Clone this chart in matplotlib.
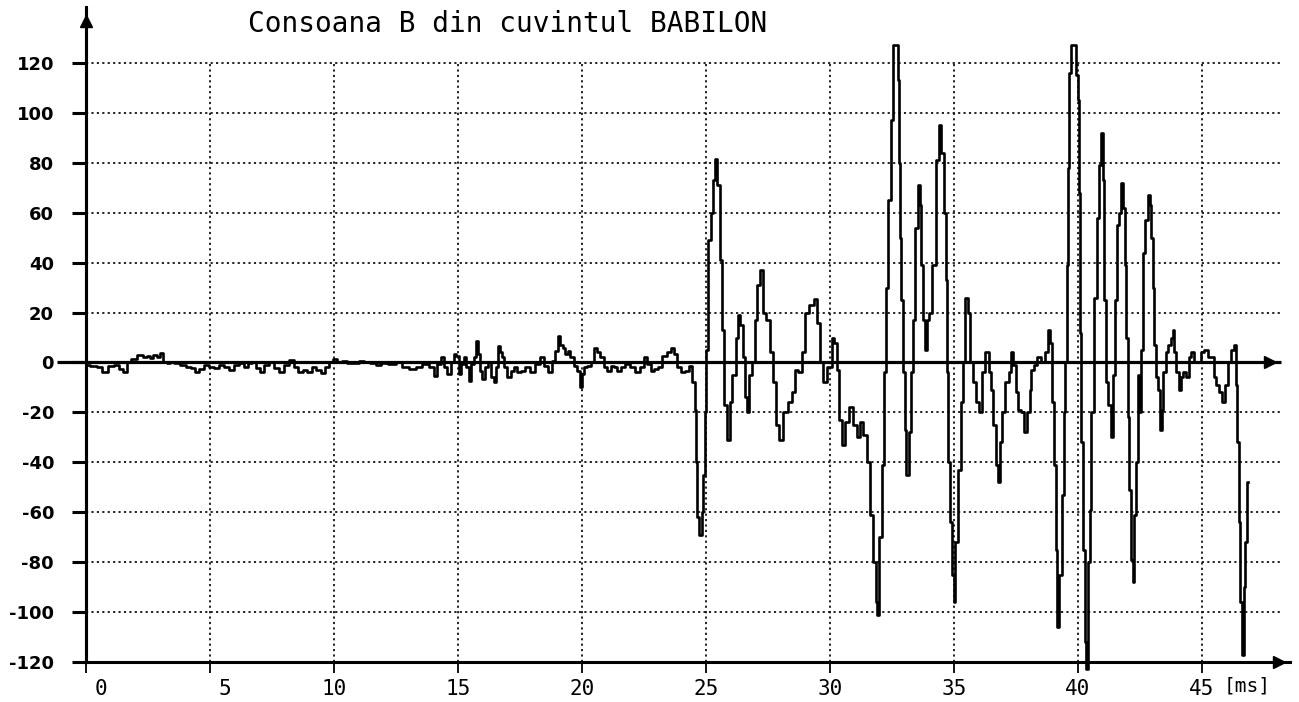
import matplotlib
matplotlib.use("Agg")
import matplotlib.pyplot as plt
from matplotlib.transforms import ScaledTranslation

# ---- data -------------------------------------------------------------
title = "Consoana B din cuvintul BABILON"
x_unit = "[ms]"
x_ticks = [0, 5, 10, 15, 20, 25, 30, 35, 40, 45]
y_ticks = [-120, -100, -80, -60, -40, -20, 0, 20, 40, 60, 80, 100, 120]

# sampled speech waveform (time in ms, amplitude in ADC units)
time_ms = [
    0.03, 0.30, 0.56, 0.77, 1.03, 1.24, 1.44, 1.57, 1.71, 1.91, 2.18, 2.38, 2.51,
    2.65, 2.78, 2.92, 3.05, 3.19, 3.32, 3.45, 3.66, 3.92, 4.13, 4.33, 4.46, 4.66,
    4.87, 5.07, 5.27, 5.47, 5.67, 5.87, 6.08, 6.28, 6.48, 6.61, 6.75, 6.95, 7.09,
    7.29, 7.49, 7.69, 7.89, 8.09, 8.29, 8.49, 8.63, 8.83, 9.03, 9.17, 9.37, 9.57,
    9.70, 9.91, 10.04, 10.24, 10.44, 10.64, 10.91, 11.11, 11.32, 11.59, 11.79, 11.99,
    12.35, 12.62, 12.89, 13.16, 13.43, 13.70, 13.97, 14.10, 14.23, 14.37, 14.50,
    14.64, 14.77, 14.88, 14.97, 15.08, 15.17, 15.28, 15.38, 15.47, 15.58, 15.69,
    15.78, 15.85, 15.91, 16.05, 16.14, 16.25, 16.38, 16.49, 16.59, 16.65, 16.75,
    16.81, 16.92, 17.06, 17.19, 17.33, 17.46, 17.59, 17.80, 18.00, 18.20, 18.40,
    18.53, 18.74, 18.87, 18.98, 19.07, 19.18, 19.27, 19.38, 19.48, 19.58, 19.74,
    19.88, 19.99, 20.04, 20.15, 20.28, 20.42, 20.55, 20.69, 20.79, 20.95, 21.09,
    21.22, 21.36, 21.49, 21.63, 21.83, 22.03, 22.23, 22.43, 22.57, 22.70, 22.83,
    22.97, 23.17, 23.31, 23.51, 23.64, 23.78, 23.91, 24.05, 24.25, 24.38, 24.50,
    24.58, 24.62, 24.69, 24.78, 24.86, 24.92, 24.97, 25.02, 25.16, 25.23, 25.31,
    25.39, 25.50, 25.59, 25.70, 25.77, 25.90, 26.01, 26.10, 26.28, 26.34, 26.44,
    26.51, 26.61, 26.71, 26.77, 26.91, 27.04, 27.11, 27.24, 27.35, 27.51, 27.65,
    27.78, 27.85, 28.05, 28.19, 28.39, 28.52, 28.66, 28.79, 28.92, 29.06, 29.26,
    29.44, 29.53, 29.66, 29.76, 30.00, 30.13, 30.20, 30.34, 30.41, 30.54, 30.68,
    30.88, 31.01, 31.15, 31.28, 31.42, 31.55, 31.69, 31.78, 31.89, 31.93, 32.03,
    32.16, 32.23, 32.30, 32.39, 32.50, 32.57, 32.70, 32.77, 32.80, 32.84, 32.91,
    32.97, 33.04, 33.11, 33.24, 33.31, 33.38, 33.51, 33.58, 33.65, 33.72, 33.78,
    33.88, 33.96, 34.05, 34.19, 34.32, 34.43, 34.53, 34.64, 34.69, 34.73, 34.80,
    34.89, 34.96, 35.00, 35.11, 35.20, 35.34, 35.41, 35.50, 35.61, 35.72, 35.81,
    35.95, 36.04, 36.20, 36.29, 36.37, 36.47, 36.53, 36.64, 36.73, 36.80, 36.91,
    37.00, 37.14, 37.27, 37.34, 37.45, 37.54, 37.63, 37.74, 37.88, 38.01, 38.08,
    38.15, 38.28, 38.41, 38.62, 38.75, 38.84, 38.92, 38.98, 39.06, 39.13, 39.19,
    39.29, 39.38, 39.46, 39.52, 39.56, 39.62, 39.69, 39.76, 39.89, 39.96, 40.03,
    40.07, 40.12, 40.16, 40.23, 40.30, 40.36, 40.43, 40.50, 40.56, 40.70, 40.81,
    40.86, 40.97, 41.03, 41.08, 41.17, 41.28, 41.37, 41.44, 41.51, 41.61, 41.71,
    41.77, 41.84, 41.91, 41.98, 42.02, 42.11, 42.20, 42.24, 42.31, 42.38, 42.45,
    42.50, 42.58, 42.67, 42.77, 42.85, 42.92, 42.98, 43.04, 43.08, 43.17, 43.25,
    43.35, 43.41, 43.48, 43.58, 43.68, 43.79, 43.86, 43.92, 44.02, 44.09, 44.19,
    44.29, 44.42, 44.53, 44.62, 44.76, 44.89, 45.03, 45.16, 45.30, 45.43, 45.52,
    45.63, 45.77, 45.87, 45.97, 46.10, 46.21, 46.34, 46.40, 46.44, 46.51, 46.57,
    46.64, 46.71, 46.77, 46.84,
]
amplitude = [
    -1, -1.5, -2, -4, -1.5, -1, -2.5, -4, 0, 1.5, 3, 2.3, 2.5,
    1.6, 3, 2.3, 3.6, 0.3, -0.4, 0.3, -0.4, -1, -1.7, -2.4, -3.7, -2.8,
    -1, -1.7, -2.4, -1, -1.7, -3, -1, -0.4, -1.7, -0.4, 0.3, -2.4, -3.7,
    -1, 0.3, -2.4, -3.7, -1, 1, -1.7, -3.7, -3, -3.7, -1.7, -3, -4.4,
    -1.7, 0.3, 1.2, 0.3, 0.7, -0.1, -0.4, 0.7, 0.3, -0.4, -1, -0.4,
    -0.7, 0, -2, -2.7, -2, -0.7, -2, -5.4, -0.7, 2, -2,
    -4.7, 0, 3.3, 2.7, -4.7, -0.7, 2, -2, -7.4, -0.7, 2,
    8.7, 3.3, -3.3, -6.7, -2, 0, -6, -8, -2, 6.7, 4,
    2, -2, -6, -3.3, -2, -4, -3.3, -2, -4, -0.7, 2,
    -1.3, -4, 0.7, 4.7, 10.7, 7, 6, 3.3, 4.7, 2, -1.3,
    -3.3, -10, -4.7, -2, -1.3, 0, 6, 4, 2, -2, -3.3,
    -1.3, -2, -3.3, -2, -0.7, -2, -4, -2, 2, -0.7, -3.3,
    -2.7, -2, 2.7, 4, 6, 3.3, -2, -4, -3.3, -1.3, -8,
    -19, -40, -62, -69, -60, -45, -20, 5, 49, 60, 73,
    81.5, 71, 41, 13, -17, -31, -16, -5, 10, 19, 15,
    2, -14, -20, -5, 0, 17, 31, 37, 20, 17, 4,
    -8, -25, -31, -20, -16, -12, -3, -4, 4, 20, 23,
    25.5, 16, 0, -8, -2, 10, 8, -3, -23, -33, -24,
    -18, -25, -30, -24, -29, -40, -61, -80, -96, -101, -70,
    -41, -4, 30, 65, 97, 127, 127, 113, 80, 50, 25,
    -4, -27, -45, -28, -4, 17, 54, 71, 63, 39, 17,
    5, 17, 20, 39, 81, 95, 84, 60, 33, -4, -40,
    -64, -85, -96, -72, -43, -16, 0, 26, 20, 0, -8,
    -16, -20, -4, 4, 4, -4, -11, -25, -41, -48, -32,
    -20, -8, -4, 4, -1, -12, -19, -20, -28, -20, -11,
    -3, -1, 2, 0, 4, 13, 8, -16, -41, -75, -106,
    -85, -53, -20, 0, 39, 78, 116, 127, 127, 115, 105,
    68, 12, -32, -75, -112, -123, -80, -59, -20, 26, 58,
    79, 92, 73, 25, -8, -17, -30, -5, 25, 55, 60,
    72, 62, 39, 10, -22, -51, -79, -88, -61, -40, -5,
    -20, 5, 44, 57, 67, 63, 50, 30, 7, -6, -11,
    -27, -19, -4, 4, 7, 10, 13, 4, -4, -11, -6,
    -4, -6, 2, 4, 0, 0, 4, 5, 2, 2, -6,
    -9, -12, -16, -9, 0, 5, 7, -9, -32, -64, -96,
    -117, -90, -72, -48,
]

# ---- figure -----------------------------------------------------------
W, H = 1299, 702
fig = plt.figure(figsize=(W / 100, H / 100), dpi=100)
fig.patch.set_facecolor("white")

px_per_ms = 24.8
px_per_unit = 2.496
x0_px, y0_px = 86, 662          # pixel position of (0 ms, -120)
right_px, top_px = 1290, 7
ax = fig.add_axes([x0_px / W, (H - y0_px) / H,
                   (right_px - x0_px) / W, (y0_px - top_px) / H])
ax.set_xlim(0, (right_px - x0_px) / px_per_ms)
ax.set_ylim(-120, -120 + (y0_px - top_px) / px_per_unit)
ax.set_facecolor("white")

for side in ("top", "right"):
    ax.spines[side].set_visible(False)
for side in ("left", "bottom"):
    ax.spines[side].set_linewidth(2.2)
    ax.spines[side].set_color("black")

grid_kw = dict(colors="#111111", linestyles=(0, (1.2, 1.8)), linewidth=1.3, zorder=1)
grid_right = 48.15
ax.hlines([v for v in y_ticks if v not in (0, -120)], 0, grid_right, **grid_kw)
ax.vlines([t for t in x_ticks if t != 0], -120, 120, **grid_kw)

# zero reference line with arrow heads at the ends of both axes
ax.plot([-1.15, 48.2], [0, 0], color="black", lw=2.3, clip_on=False, zorder=3,
        solid_capstyle="butt")
ax.plot([47.75], [0], marker=">", ms=9, color="black", clip_on=False, zorder=4)
ax.plot([48.1], [-120], marker=">", ms=9, color="black", clip_on=False, zorder=4)
ax.plot([0], [137], marker="^", ms=9, color="black", clip_on=False, zorder=4)
ax.plot([0, 0], [-120, 141], color="black", lw=2.2, clip_on=False, zorder=4)

# waveform, drawn sample-and-hold style
ax.plot(time_ms, amplitude, color="black", lw=1.9, drawstyle="steps-mid",
        zorder=5, clip_on=False)

# ticks
ax.set_yticks(y_ticks)
ax.set_yticklabels([str(v) for v in y_ticks])
ax.tick_params(axis="y", length=10, width=2.2, pad=13, labelsize=13, colors="black")
for lab in ax.get_yticklabels():
    lab.set_fontweight("bold")

ax.set_xticks(x_ticks)
ax.set_xticklabels([str(t) for t in x_ticks])
ax.tick_params(axis="x", length=8, width=1.3, pad=4, labelsize=15, colors="black")
for lab in ax.get_xticklabels():
    lab.set_fontfamily("DejaVu Sans Mono")
    if len(lab.get_text()) == 1:
        lab.set_transform(lab.get_transform() +
                          ScaledTranslation(11 / 72, 0, fig.dpi_scale_trans))

fig.text(1224 / W, 1 - 686 / H, x_unit, family="DejaVu Sans Mono", fontsize=14,
         va="center", ha="left")
fig.text(248 / W, 1 - 24 / H, title, family="DejaVu Sans Mono", fontsize=20,
         va="center", ha="left")

fig.savefig("out.png", dpi=100, facecolor="white")
